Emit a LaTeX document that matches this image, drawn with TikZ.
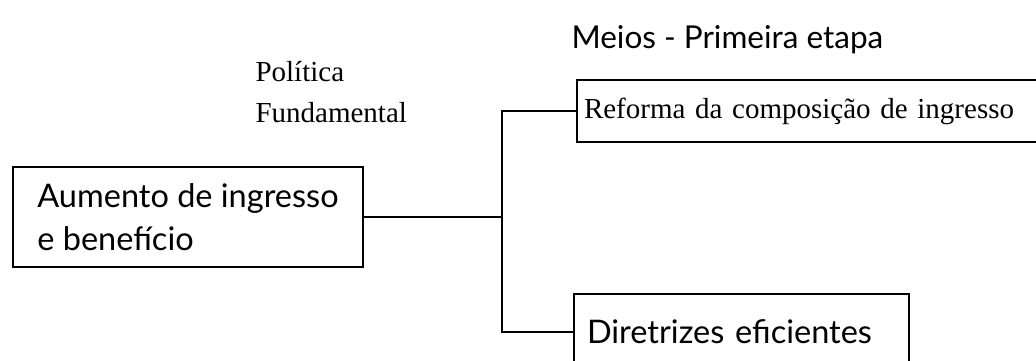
\documentclass[tikz,border=0pt]{standalone}
\usepackage{fontspec}
\setmainfont{Liberation Serif}
\newfontfamily\meiosfont{Lato}
\usetikzlibrary{positioning}

\begin{document}
\begin{tikzpicture}[
    x=1pt, y=-1pt,
    box/.style={draw=black, line width=2pt, inner ysep=0pt, anchor=west},
    bigbox/.style={box, font=\meiosfont\fontsize{32.5}{43}\selectfont, align=left},
    smallbox/.style={box, font=\fontsize{29}{34}\selectfont, align=left},
    caption/.style={font=\fontsize{29}{41}\selectfont, anchor=west, align=left},
    heading/.style={font=\meiosfont\fontsize{31.5}{36}\selectfont, anchor=west},
    link/.style={draw=black, line width=2pt},
  ]
  \useasboundingbox (0,0) rectangle (1036,361);
  % labels above the tree
  \node[heading] (meios) at (568,40) {Meios - Primeira etapa};
  \node[caption] (politica) at (252,92) {Política\\Fundamental};
  % boxes
  \node[bigbox, minimum width=350pt, minimum height=100pt]
    (aumento) at (12,217) {Aumento de ingresso\\e benefício};
  \node[smallbox, text width=460pt, inner xsep=7pt, minimum height=62pt]
    (reforma) at (576,111) {Reforma da composição de ingresso};
  \node[bigbox, text width=309pt, inner xsep=13pt, minimum height=76pt]
    (diretrizes) at (573,332) {Diretrizes eficientes};
  % fork
  \coordinate (fork) at (502,217);
  \draw[link] (aumento.east) -- (fork);
  \draw[link] (reforma.west) -| (fork) |- (diretrizes.west);
\end{tikzpicture}
\end{document}
